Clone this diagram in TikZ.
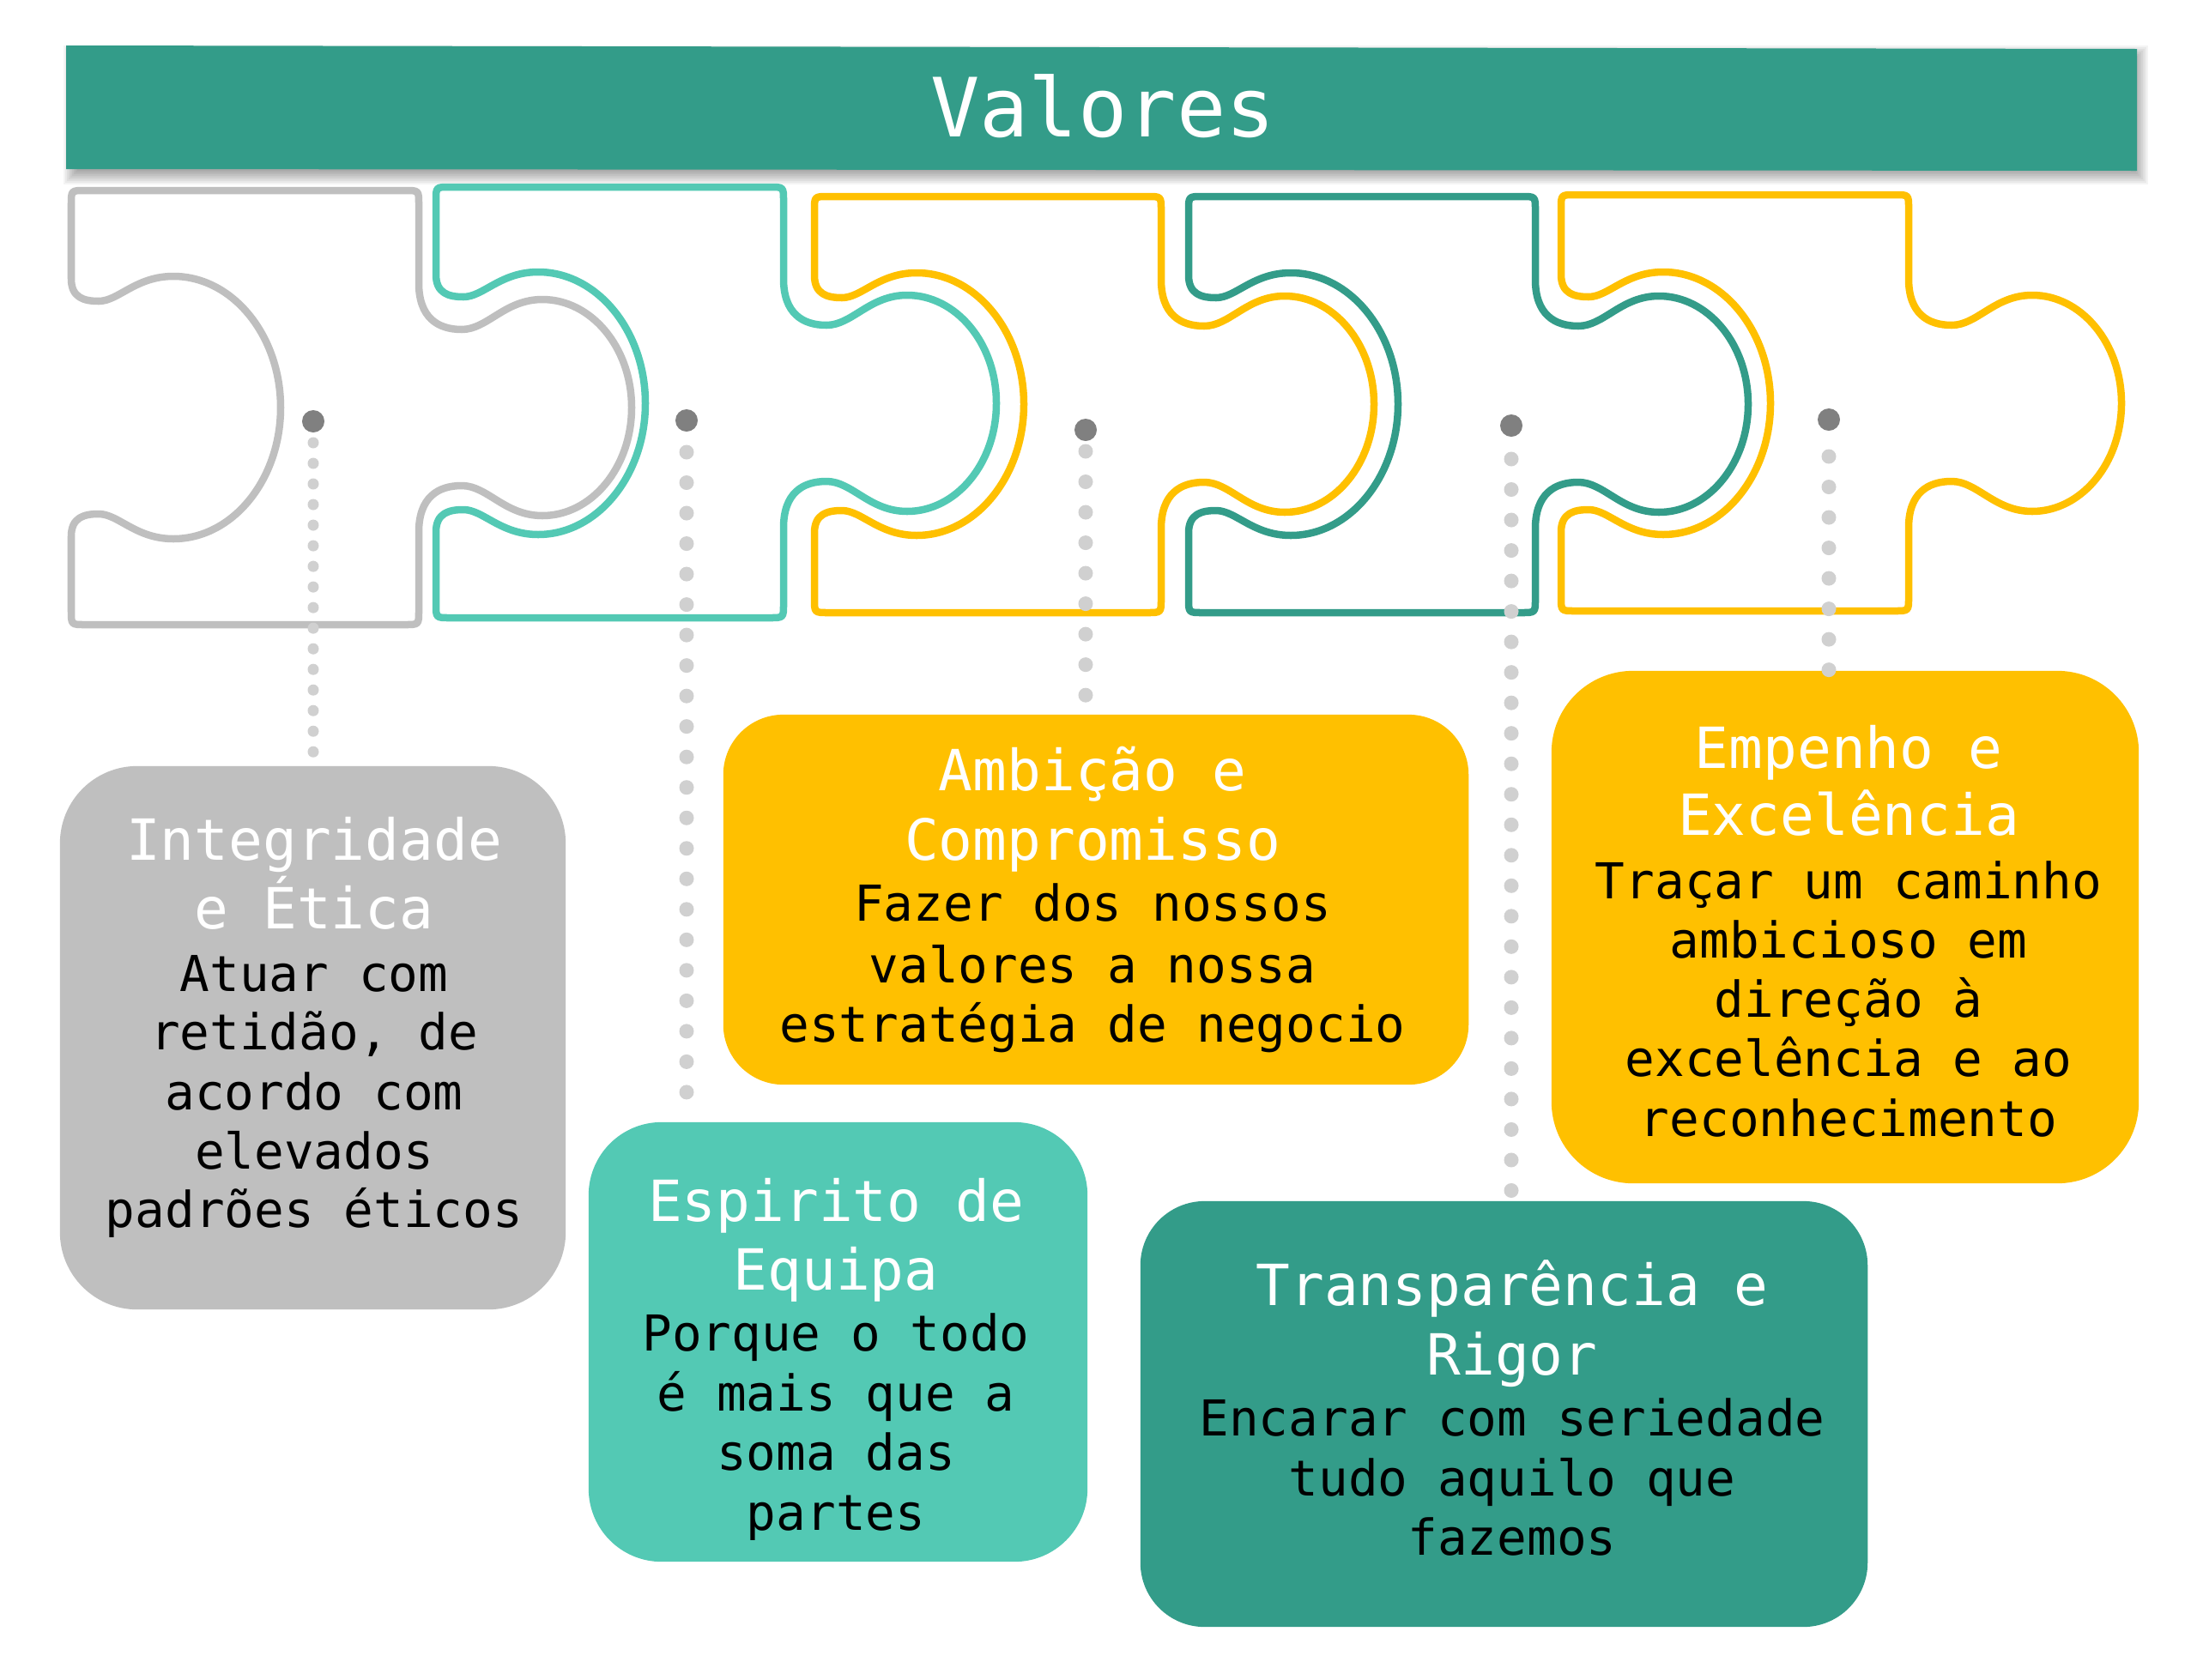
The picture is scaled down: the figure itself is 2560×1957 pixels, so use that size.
\documentclass[tikz,border=0pt]{standalone}
\usepackage{fontspec}
\newfontfamily\monof{DejaVu Sans Mono}
\usetikzlibrary{calc}
\definecolor{cgray}{HTML}{BFBFBF}
\definecolor{cteal}{HTML}{53C9B4}
\definecolor{cyel}{HTML}{FFC000}
\definecolor{cdark}{HTML}{339C89}
\definecolor{cdot}{HTML}{808080}
\definecolor{cldot}{HTML}{D0D0D0}
% #1=L #2=R #3=T #4=B #5=C (centre y) #6=colour
\newcommand\puzzlepiece[6]{%
\draw[piece, draw=#6]
 ({#1},{#3+16}) .. controls ({#1},{#3}) .. ({#1+16},{#3})
 -- ({#2-16},{#3}) .. controls ({#2},{#3}) .. ({#2},{#3+16})
 -- ({#2},{#5-145})
 .. controls ({#2},{#5-105}) and ({#2+22},{#5-91}) .. ({#2+50},{#5-91})
 .. controls ({#2+80},{#5-91}) and ({#2+100},{#5-126}) .. ({#2+144},{#5-126})
 .. controls ({#2+201},{#5-126}) and ({#2+248},{#5-70}) .. ({#2+248},{#5})
 .. controls ({#2+248},{#5+70}) and ({#2+201},{#5+126}) .. ({#2+144},{#5+126})
 .. controls ({#2+100},{#5+126}) and ({#2+80},{#5+91}) .. ({#2+50},{#5+91})
 .. controls ({#2+22},{#5+91}) and ({#2},{#5+105}) .. ({#2},{#5+145})
 -- ({#2},{#4-16}) .. controls ({#2},{#4}) .. ({#2-16},{#4})
 -- ({#1+16},{#4}) .. controls ({#1},{#4}) .. ({#1},{#4-16})
 -- ({#1},{#5+150})
 .. controls ({#1},{#5+128}) and ({#1+15},{#5+124}) .. ({#1+32},{#5+124})
 .. controls ({#1+55},{#5+124}) and ({#1+75},{#5+153}) .. ({#1+119},{#5+153})
 .. controls ({#1+188},{#5+153}) and ({#1+244},{#5+84}) .. ({#1+244},{#5})
 .. controls ({#1+244},{#5-84}) and ({#1+188},{#5-153}) .. ({#1+119},{#5-153})
 .. controls ({#1+75},{#5-153}) and ({#1+55},{#5-124}) .. ({#1+32},{#5-124})
 .. controls ({#1+15},{#5-124}) and ({#1},{#5-128}) .. ({#1},{#5-150})
 -- cycle;}
\tikzset{
 piece/.style={line width=0.085cm, line join=round},
 box/.style={rectangle, inner sep=0pt, draw=none},
 bigdot/.style={circle, fill=cdot, inner sep=0pt, minimum size=0.26cm},
 dotsA/.style={draw=cldot, line width=0.13cm, line cap=round, dash pattern=on 0pt off 0.24cm},
 dotsB/.style={draw=cldot, line width=0.17cm, line cap=round, dash pattern=on 0pt off 0.355cm},
 ttl/.style={anchor=base, inner sep=0pt, text=white, font=\monof\fontsize{18.8}{22}\selectfont},
 bdy/.style={anchor=base, inner sep=0pt, text=black, font=\monof\fontsize{16.4}{20}\selectfont},
 mttl/.style={anchor=base, inner sep=0pt, text=white, font=\monof\fontsize{27.1}{31}\selectfont},
}
\begin{document}
\begin{tikzpicture}[x=0.01cm,y=-0.01cm]
\useasboundingbox[fill=white] (0,0) rectangle (2560,1957);
% title bar with soft shadow
\foreach \i in {0,...,8} {\fill[black, opacity=0.045] ({74+2*\i},{53+2*\i}) rectangle ({2503-2*\i},{215-2*\i});}
\fill[cdark] (77,53) -- (2490,57) -- (2490,199) -- (77,197) -- cycle;
\node[mttl] (title) at (1285,159) {Valores};
% puzzle pieces
\puzzlepiece{83}{488}{222}{728}{475}{cgray}
\puzzlepiece{508}{913}{218}{720}{470}{cteal}
\puzzlepiece{949}{1353}{229}{714}{471}{cyel}
\puzzlepiece{1385}{1789}{229}{714}{471}{cdark}
\puzzlepiece{1819}{2224}{227}{712}{470}{cyel}
% boxes
\node[box, fill=cgray, minimum width=5.89cm, minimum height=6.33cm, rounded corners=0.9cm] (b1) at (364.5,1209.5) {};
\node[box, fill=cteal, minimum width=5.81cm, minimum height=5.12cm, rounded corners=0.85cm] (b2) at (976.5,1564) {};
\node[box, fill=cyel, minimum width=8.68cm, minimum height=4.31cm, rounded corners=0.7cm] (b3) at (1277,1048.5) {};
\node[box, fill=cdark, minimum width=8.47cm, minimum height=4.96cm, rounded corners=0.75cm] (b4) at (1752.5,1648) {};
\node[box, fill=cyel, minimum width=6.84cm, minimum height=5.97cm, rounded corners=0.95cm] (b5) at (2150,1080.5) {};
% dots and dotted connectors
\node[bigdot] (d1) at (365,491) {};
\node[bigdot] (d2) at (800,490) {};
\node[bigdot] (d3) at (1265,501) {};
\node[bigdot] (d4) at (1761,496) {};
\node[bigdot] (d5) at (2131,489) {};
\draw[dotsA] ($(d1.center)+(0,25)$) -- (d1.center |- b1.north);
\draw[dotsB] ($(d2.center)+(0,37)$) -- (d2.center |- b2.north);
\draw[dotsB] ($(d3.center)+(0,25)$) -- (d3.center |- b3.north);
\draw[dotsB] ($(d4.center)+(0,39)$) -- (d4.center |- b4.north);
\draw[dotsB] ($(d5.center)+(0,43)$) -- (d5.center |- b5.north);
% box 1 text
\node[ttl] (b1l1) at (366,1002) {Integridade};
\node[ttl] (b1l2) at (366,1082) {e Ética};
\node[bdy] (b1l3) at (366,1155) {Atuar com};
\node[bdy] (b1l4) at (366,1223) {retidão, de};
\node[bdy] (b1l5) at (366,1293) {acordo com};
\node[bdy] (b1l6) at (366,1362) {elevados};
\node[bdy] (b1l7) at (366,1430) {padrões éticos};
% box 2 text
\node[ttl] (b2l1) at (974,1423) {Espirito de};
\node[ttl] (b2l2) at (974,1503) {Equipa};
\node[bdy] (b2l3) at (974,1574) {Porque o todo};
\node[bdy] (b2l4) at (974,1644) {é mais que a};
\node[bdy] (b2l5) at (974,1713) {soma das};
\node[bdy] (b2l6) at (974,1783) {partes};
% box 3 text
\node[ttl] (b3l1) at (1273,921) {Ambição e};
\node[ttl] (b3l2) at (1273,1002) {Compromisso};
\node[bdy] (b3l3) at (1273,1073) {Fazer dos nossos};
\node[bdy] (b3l4) at (1273,1145) {valores a nossa};
\node[bdy] (b3l5) at (1273,1214) {estratégia de negocio};
% box 4 text
\node[ttl] (b4l1) at (1762,1521) {Transparência e};
\node[ttl] (b4l2) at (1762,1602) {Rigor};
\node[bdy] (b4l3) at (1762,1673) {Encarar com seriedade};
\node[bdy] (b4l4) at (1762,1743) {tudo aquilo que};
\node[bdy] (b4l5) at (1762,1812) {fazemos};
% box 5 text
\node[ttl] (b5l1) at (2154,895) {Empenho e};
\node[ttl] (b5l2) at (2154,973) {Excelência};
\node[bdy] (b5l3) at (2154,1047) {Traçar um caminho};
\node[bdy] (b5l4) at (2154,1116) {ambicioso em};
\node[bdy] (b5l5) at (2154,1185) {direção à};
\node[bdy] (b5l6) at (2154,1254) {excelência e ao};
\node[bdy] (b5l7) at (2154,1324) {reconhecimento};
\end{tikzpicture}
\end{document}
